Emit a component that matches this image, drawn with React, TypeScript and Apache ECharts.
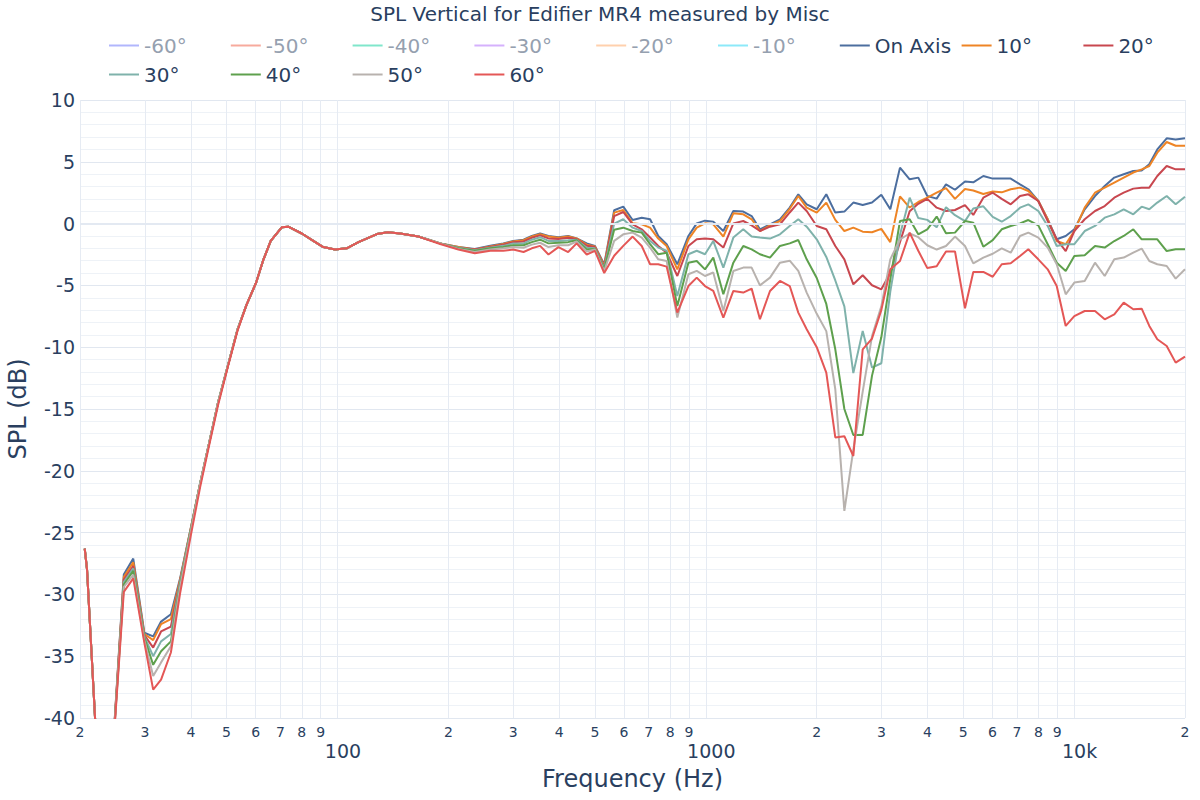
import React, { useEffect, useRef } from 'react';
import * as echarts from 'echarts';

const freqs = [
  20.6, 20.9, 22.7, 24.1, 26.3, 27.9, 29.9, 31.6, 33.2, 35.3,
  37.4, 40.0, 42.4, 44.8, 47.4, 50.4, 53.5, 56.6, 60.1, 62.8,
  65.9, 70.6, 73.5, 80.0, 86.0, 91.5, 98.5, 106, 114, 128,
  137, 148, 166, 190, 213, 236, 260, 282, 300, 320,
  337, 355, 374, 398, 423, 446, 475, 500, 530, 564,
  597, 633, 670, 706, 743, 783, 837, 897, 945, 995,
  1048, 1116, 1188, 1264, 1332, 1403, 1494, 1590, 1690, 1783,
  1879, 2001, 2124, 2247, 2378, 2515, 2667, 2827, 2996, 3169,
  3367, 3577, 3775, 3994, 4235, 4489, 4749, 5055, 5324, 5669,
  6012, 6360, 6728, 7131, 7510, 7994, 8478, 8969, 9488, 10013,
  10684, 11395, 12107, 12855, 13633, 14476, 15256, 16000, 16820, 17837,
  18866, 20000,
];

const onAxis = [
  -26.3, -28.0, -47.8, -46.4, -28.4, -27.1, -33.1, -33.4, -32.2, -31.6,
  -28.7, -24.6, -21.0, -17.8, -14.5, -11.5, -8.6, -6.6, -4.8, -3.0,
  -1.4, -0.3, -0.25, -0.8, -1.4, -1.9, -2.1, -2.0, -1.5, -0.85,
  -0.7, -0.8, -1.05, -1.6, -1.9, -2.05, -1.8, -1.6, -1.4, -1.3,
  -1.0, -0.8, -1.0, -1.1, -1.0, -1.2, -1.6, -1.8, -3.3, 1.08,
  1.37, 0.29, 0.48, 0.35, -1.0, -1.67, -3.29, -1.0, 0.02, 0.24,
  0.16, -0.6, 1.02, 0.97, 0.61, -0.46, -0.06, 0.35, 1.3, 2.37,
  1.56, 1.16, 2.37, 0.89, 0.97, 1.7, 1.5, 1.7, 2.33, 1.16,
  4.53, 3.58, 3.72, 2.23, 2.02, 3.18, 2.74, 3.4, 3.34, 3.85,
  3.64, 3.64, 3.64, 3.18, 2.78, 1.83, 0.35, -1.27, -1.0, -0.46,
  1.16, 2.23, 3.04, 3.72, 3.99, 4.26, 4.3, 4.8, 6.0, 6.9,
  6.8, 6.9,
];

const deg10 = [
  -26.3, -28.0, -47.8, -46.4, -28.6, -27.4, -33.2, -33.7, -32.4, -32.0,
  -28.8, -24.6, -21.0, -17.8, -14.5, -11.5, -8.6, -6.6, -4.8, -3.0,
  -1.4, -0.3, -0.25, -0.8, -1.4, -1.9, -2.1, -2.0, -1.5, -0.85,
  -0.7, -0.8, -1.05, -1.6, -1.9, -2.1, -1.85, -1.65, -1.45, -1.35,
  -1.05, -0.85, -1.05, -1.15, -1.05, -1.2, -1.7, -1.85, -3.4, 0.89,
  1.1, 0.02, -0.06, -0.33, -1.21, -1.81, -3.7, -1.27, -0.33, 0.02,
  -0.06, -1.05, 0.83, 0.75, 0.35, -0.6, -0.14, 0.21, 1.2, 2.23,
  1.29, 0.89, 1.7, 0.3, -0.6, -0.33, -0.65, -0.7, -0.43, -1.5,
  2.2, 1.3, 1.75, 2.1, 2.5, 2.87, 2.0, 2.8, 2.68, 2.4,
  2.6, 2.53, 2.78, 2.91, 2.64, 1.83, 0.35, -1.41, -1.67, -0.6,
  1.29, 2.5, 2.91, 3.32, 3.72, 4.13, 4.39, 4.66, 5.74, 6.6,
  6.3, 6.3,
];

const deg20 = [
  -26.3, -28.0, -47.8, -46.4, -28.8, -27.7, -33.3, -34.3, -33.0, -32.6,
  -28.9, -24.7, -21.0, -17.8, -14.5, -11.5, -8.6, -6.6, -4.8, -3.0,
  -1.4, -0.3, -0.25, -0.8, -1.4, -1.9, -2.1, -2.0, -1.5, -0.85,
  -0.7, -0.8, -1.05, -1.6, -1.95, -2.1, -1.9, -1.7, -1.5, -1.45,
  -1.15, -0.95, -1.2, -1.25, -1.15, -1.25, -1.8, -1.9, -3.5, 0.61,
  0.94, -0.06, -0.46, -1.13, -1.81, -2.35, -4.24, -1.81, -1.27, -1.21,
  -1.27, -1.94, 0.02, 0.21, -0.14, -0.6, -0.25, -0.06, 0.9, 1.7,
  1.02, -0.19, -0.46, -1.81, -2.89, -4.91, -4.18, -4.99, -5.32, -4.0,
  -1.5, 1.0, 1.6, 2.0, 1.29, 1.02, 1.1, 1.5, 0.7, 2.1,
  2.5, 2.0, 1.56, 2.23, 2.37, 1.83, 0.21, -1.27, -2.22, -0.6,
  0.35, 1.02, 1.42, 2.1, 2.5, 2.83, 2.91, 2.91, 3.85, 4.66,
  4.39, 4.39,
];

const deg30 = [
  -26.3, -28.0, -47.8, -46.4, -29.0, -27.9, -33.4, -35.0, -33.8, -33.2,
  -29.0, -24.7, -21.0, -17.8, -14.5, -11.5, -8.6, -6.6, -4.8, -3.0,
  -1.4, -0.3, -0.25, -0.8, -1.4, -1.9, -2.1, -2.0, -1.5, -0.85,
  -0.7, -0.8, -1.05, -1.6, -1.95, -2.15, -1.95, -1.8, -1.6, -1.6,
  -1.3, -1.1, -1.4, -1.4, -1.35, -1.3, -1.95, -2.0, -3.6, 0.0,
  0.35, -0.33, -0.6, -1.41, -1.94, -2.2, -5.86, -2.48, -2.2, -2.48,
  -1.41, -3.56, -1.13, -0.46, -1.05, -1.13, -1.21, -0.87, -0.2, 0.35,
  -0.25, -1.27, -2.7, -4.6, -6.7, -12.1, -8.69, -11.65, -11.3, -5.5,
  -0.9, 2.1, 0.45, 0.3, -0.3, 1.33, 0.68, 0.2, 1.22, 1.4,
  0.55, 0.15, 0.61, 1.29, 1.56, 1.02, -0.19, -1.81, -1.67, -1.67,
  -0.6, -0.19, 0.48, 0.75, 1.16, 0.75, 1.37, 1.16, 1.7, 2.23,
  1.56, 2.18,
];

const deg40 = [
  -26.3, -28.0, -47.8, -46.4, -29.2, -28.1, -33.5, -35.7, -34.6, -33.8,
  -29.2, -24.8, -21.0, -17.8, -14.5, -11.5, -8.6, -6.6, -4.8, -3.0,
  -1.4, -0.3, -0.25, -0.8, -1.4, -1.9, -2.1, -2.0, -1.5, -0.85,
  -0.7, -0.8, -1.05, -1.6, -2.0, -2.2, -2.0, -1.9, -1.75, -1.75,
  -1.5, -1.3, -1.6, -1.55, -1.5, -1.35, -2.1, -2.05, -3.7, -0.5,
  -0.33, -0.6, -0.73, -1.67, -2.48, -2.35, -6.67, -3.16, -3.03, -3.7,
  -2.75, -5.72, -3.16, -1.81, -2.08, -2.48, -2.75, -1.81, -1.6, -1.33,
  -2.89, -4.4, -6.5, -10.17, -15.0, -17.1, -17.1, -12.3, -9.2, -4.5,
  0.21, 0.35, -0.87, -0.46, 0.57, -0.78, -0.73, 0.21, 0.08, -1.87,
  -1.34, -0.46, -0.19, 0.02, 0.29, -0.14, -1.67, -3.16, -3.83, -2.62,
  -2.56, -1.81, -1.94, -1.41, -1.0, -0.46, -1.27, -1.27, -1.27, -2.22,
  -2.08, -2.08,
];

const deg50 = [
  -26.3, -28.0, -47.8, -46.4, -29.4, -28.4, -33.7, -36.6, -35.5, -34.2,
  -29.4, -24.9, -21.0, -17.8, -14.5, -11.5, -8.6, -6.6, -4.8, -3.0,
  -1.4, -0.3, -0.25, -0.8, -1.4, -1.9, -2.1, -2.0, -1.5, -0.85,
  -0.7, -0.8, -1.05, -1.6, -2.05, -2.3, -2.1, -2.0, -1.9, -1.95,
  -1.7, -1.55, -1.9, -1.75, -1.75, -1.45, -2.25, -2.1, -3.85, -1.4,
  -0.87, -0.73, -1.13, -1.94, -2.89, -3.03, -7.6, -4.1, -3.83, -4.24,
  -3.96, -7.07, -3.83, -3.56, -3.56, -5.0, -4.37, -3.16, -3.0, -3.83,
  -5.58, -7.3, -8.7, -13.4, -23.25, -18.3, -13.6, -9.1, -6.7, -2.89,
  -1.27, -0.8, -1.1, -1.75, -2.1, -1.81, -1.05, -1.81, -3.22, -2.75,
  -2.44, -2.0, -2.35, -1.0, -0.73, -1.13, -1.94, -3.29, -5.72, -4.77,
  -4.64, -3.16, -4.24, -2.89, -2.75, -2.35, -2.02, -3.03, -3.29, -3.43,
  -4.45, -3.7,
];

const deg60 = [
  -26.3, -28.0, -47.8, -46.4, -29.8, -28.7, -33.9, -37.7, -36.9, -34.7,
  -29.9, -25.2, -21.3, -18.0, -14.7, -11.6, -8.7, -6.6, -4.8, -3.0,
  -1.4, -0.3, -0.25, -0.8, -1.4, -1.9, -2.1, -2.0, -1.5, -0.85,
  -0.7, -0.8, -1.05, -1.65, -2.1, -2.4, -2.2, -2.2, -2.1, -2.3,
  -2.0, -1.8, -2.5, -1.9, -2.3, -1.6, -2.5, -2.2, -4.0, -2.6,
  -1.8, -1.05, -1.81, -3.29, -3.29, -3.48, -7.2, -5.05, -4.37, -5.05,
  -5.45, -7.6, -5.45, -5.58, -5.26, -7.74, -5.45, -4.64, -5.05, -7.2,
  -8.55, -10.0, -12.06, -17.3, -17.2, -18.8, -10.17, -9.3, -7.0, -3.7,
  -3.03, -0.73, -2.2, -3.6, -3.45, -2.25, -2.25, -6.85, -3.91, -3.91,
  -4.3, -3.29, -3.21, -2.62, -2.08, -2.89, -3.7, -5.05, -8.28, -7.48,
  -7.07, -7.07, -7.74, -7.34, -6.39, -6.93, -6.88, -8.28, -9.36, -9.9,
  -11.25, -10.76,
];

const hiddenNames = ['-60°', '-50°', '-40°', '-30°', '-20°', '-10°'];
const hiddenColors = ['#b1b6fc', '#f7aa9d', '#80e6cb', '#d5b1fc', '#ffd0ad', '#8ce9f9'];
const visibleNames = ['On Axis', '10°', '20°', '30°', '40°', '50°', '60°'];
const visibleColors = ['#4c6e9f', '#ee8425', '#c8474f', '#7fb2ab', '#5ea04d', '#b8b2ae', '#e45756'];
const visibleValues = [onAxis, deg10, deg20, deg30, deg40, deg50, deg60];

const legendRow1 = ['-60°', '-50°', '-40°', '-30°', '-20°', '-10°', 'On Axis', '10°', '20°'];
const legendRow2 = ['30°', '40°', '50°', '60°'];

// Grid lines and small digit labels at 2..9 × each decade; big labels at powers of ten
const xTicks = [
  20, 30, 40, 50, 60, 70, 80, 90, 100,
  200, 300, 400, 500, 600, 700, 800, 900, 1000,
  2000, 3000, 4000, 5000, 6000, 7000, 8000, 9000, 10000, 20000,
];
const xDigitTicks = [
  20, 30, 40, 50, 60, 70, 80, 90,
  200, 300, 400, 500, 600, 700, 800, 900,
  2000, 3000, 4000, 5000, 6000, 7000, 8000, 9000, 20000,
];
const xDecadeTicks = [100, 1000, 10000];
const yMin = -40;
const yMax = 10;
const yStep = 5;

const FONT = 'DejaVu Sans';
const TEXT = '#2a3f5f';
const FADED_TEXT = '#95a0af';

function digitLabel(v: number): string {
  const p = Math.floor(Math.log10(v) + 1e-9);
  return String(Math.round(v / Math.pow(10, p)));
}

function decadeLabel(v: number): string {
  const p = Math.round(Math.log10(v));
  return p >= 4 ? `${Math.round(Math.pow(10, p - 3))}k` : `${Math.round(Math.pow(10, p))}`;
}

function legendItems(names: string[]) {
  return names.map((n) =>
    hiddenNames.includes(n) ? { name: n, textStyle: { color: FADED_TEXT } } : { name: n }
  );
}

function legendBox(names: string[], top: number) {
  return {
    data: legendItems(names),
    left: 109,
    top,
    padding: 0,
    icon: 'rect',
    itemWidth: 30,
    itemHeight: 2,
    itemGap: 6.8,
    selectedMode: false,
    textStyle: { fontFamily: FONT, fontSize: 20, color: TEXT, width: 80, lineHeight: 23 },
  };
}

export default function App() {
  const ref = useRef<HTMLDivElement>(null);
  useEffect(() => {
    if (!ref.current) return;
    const chart = echarts.init(ref.current, null, { renderer: 'svg' });
    const series: any[] = [];
    hiddenNames.forEach((name, i) => {
      const s: any = {
        type: 'line',
        name,
        data: [],
        symbol: 'none',
        color: hiddenColors[i],
        lineStyle: { width: 2, color: hiddenColors[i] },
      };
      if (i === 0) {
        s.markLine = {
          silent: true,
          symbol: ['none', 'none'],
          label: { show: false },
          lineStyle: { color: '#e3e9f2', width: 2, type: 'solid' },
          data: [{ yAxis: 0 }],
        };
      }
      series.push(s);
    });
    visibleNames.forEach((name, i) => {
      series.push({
        type: 'line',
        name,
        xAxisIndex: 0,
        data: freqs.map((f, k) => [f, visibleValues[i][k]]),
        symbol: 'none',
        showSymbol: false,
        color: visibleColors[i],
        lineStyle: { width: 2, color: visibleColors[i] },
      });
    });

    chart.setOption({
      animation: false,
      backgroundColor: '#ffffff',
      title: {
        text: 'SPL Vertical for Edifier MR4 measured by Misc',
        left: 'center',
        top: 4,
        padding: 0,
        textStyle: { fontFamily: FONT, fontSize: 20, fontWeight: 'normal', color: TEXT },
      },
      legend: [legendBox(legendRow1, 34), legendBox(legendRow2, 63)],
      grid: { left: 80, right: 15, top: 100, bottom: 82, containLabel: false, outerBoundsMode: 'none' },
      xAxis: [
        {
          type: 'log',
          logBase: 10,
          min: 20,
          max: 20000,
          axisLine: { show: false },
          axisTick: { show: false, customValues: xTicks },
          axisLabel: {
            customValues: xDigitTicks,
            formatter: (v: number) => digitLabel(v),
            margin: 7,
            color: TEXT,
            fontFamily: FONT,
            fontSize: 14,
            lineHeight: 14,
          },
          splitLine: { show: true, lineStyle: { color: '#e6ebf3', width: 1 } },
          name: 'Frequency (Hz)',
          nameLocation: 'middle',
          nameGap: 49,
          nameMoveOverlap: false,
          nameTextStyle: { fontFamily: FONT, fontSize: 24, color: TEXT },
        },
        {
          type: 'log',
          logBase: 10,
          min: 20,
          max: 20000,
          position: 'bottom',
          axisLine: { show: false },
          axisTick: { show: false, customValues: xDecadeTicks },
          splitLine: { show: false },
          axisLabel: {
            customValues: xDecadeTicks,
            formatter: (v: number) => `{b|${decadeLabel(v)}}`,
            margin: 24,
            color: TEXT,
            rich: {
              b: { fontSize: 19, lineHeight: 18, color: TEXT, fontFamily: FONT, padding: [0, 0, 0, 11] },
            },
          },
        },
      ],
      yAxis: {
        type: 'value',
        min: yMin,
        max: yMax,
        interval: yStep,
        axisLine: { show: false },
        axisTick: { show: false },
        axisLabel: { fontFamily: FONT, fontSize: 19, color: TEXT, margin: 5 },
        splitLine: { show: true, lineStyle: { color: '#e1e7f0', width: 1 } },
        minorTick: { show: false, splitNumber: 5 },
        minorSplitLine: { show: true, lineStyle: { color: '#eef2f7', width: 1 } },
        name: 'SPL (dB)',
        nameLocation: 'middle',
        nameGap: 50,
        nameMoveOverlap: false,
        nameTextStyle: { fontFamily: FONT, fontSize: 24, color: TEXT },
      },
      series,
    });
    return () => chart.dispose();
  }, []);
  return (
    <div
      ref={ref}
      style={{ position: 'fixed', left: 0, top: 0, width: 1200, height: 800, background: '#fff' }}
    />
  );
}
